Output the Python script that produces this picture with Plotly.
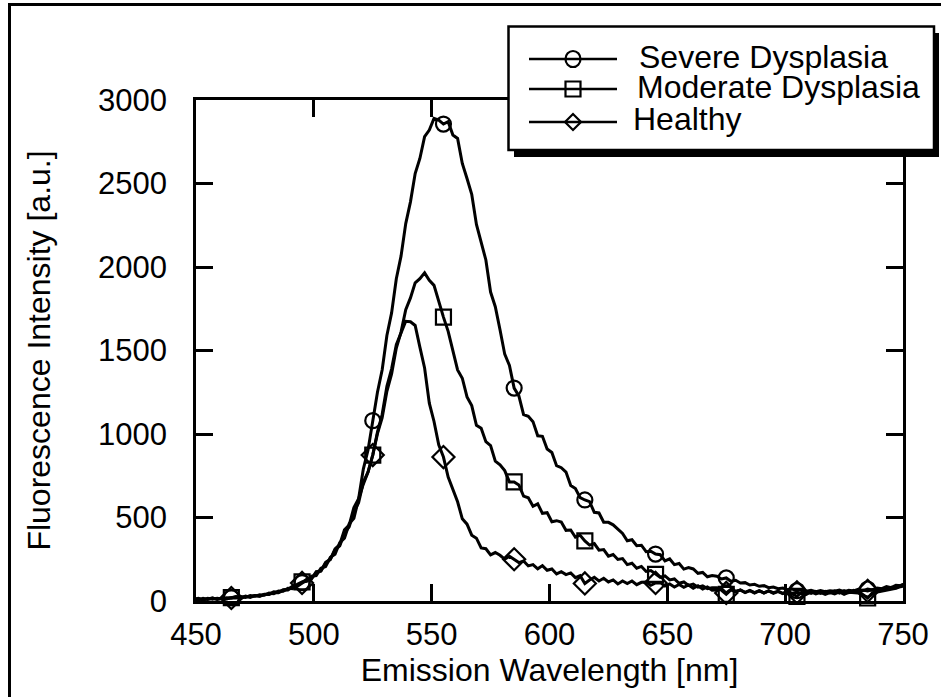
import numpy as np
import plotly.graph_objects as go

# Emission wavelength grid [nm] (2 nm sampling)
wavelength = np.arange(449, 753, 2)

severe = [
    12, 6, 16, 9, 17, 10,
    16, 12, 20, 26, 17,
    29, 22, 33, 28, 40,
    42, 55, 52, 68, 70,
    88, 92, 110, 130, 132,
    176, 180, 232, 250, 312,
    338, 426, 455, 560, 612,
    790, 905, 1080, 1250, 1385,
    1590, 1725, 1930, 2065, 2260,
    2390, 2560, 2650, 2780, 2820,
    2890, 2880, 2856, 2870, 2790,
    2770, 2620, 2530, 2435, 2255,
    2145, 2042, 1850, 1762, 1624,
    1478, 1410, 1275, 1228, 1116,
    1106, 1074, 989, 986, 910,
    889, 810, 798, 772, 692,
    674, 619, 605, 595, 531,
    527, 472, 471, 456, 428,
    405, 361, 367, 331, 334,
    295, 298, 281, 277, 240,
    252, 218, 225, 191, 200,
    192, 166, 171, 145, 153,
    148, 132, 138, 118, 124,
    108, 110, 96, 100, 88,
    92, 80, 84, 74, 78,
    68, 72, 62, 68, 58,
    64, 56, 62, 56, 62,
    58, 66, 56, 64, 60,
    70, 62, 72, 66, 78,
    74, 86, 80, 94, 92,
    104,
]

moderate = [
    10, 16, 7, 14, 18, 10,
    17, 14, 20, 18, 27,
    22, 32, 28, 37, 35,
    47, 44, 60, 58, 76,
    74, 100, 114, 118, 148,
    152, 196, 206, 262, 280,
    350, 376, 462, 495, 612,
    700, 772, 874, 1002, 1098,
    1256, 1360, 1515, 1610, 1745,
    1815, 1905, 1930, 1965, 1920,
    1890, 1790, 1700, 1615, 1490,
    1384, 1334, 1222, 1170, 1052,
    1034, 954, 931, 837, 815,
    781, 713, 713, 695, 628,
    618, 567, 582, 525, 529,
    475, 481, 473, 423, 425,
    382, 394, 360, 335, 344,
    304, 308, 268, 278, 249,
    254, 218, 226, 196, 207,
    177, 182, 160, 142, 150,
    126, 132, 106, 114, 93,
    101, 83, 91, 74, 79,
    80, 64, 40, 66, 54,
    66, 50, 62, 48, 60,
    48, 60, 46, 58, 44,
    56, 42, 28, 52, 40,
    54, 42, 52, 40, 50,
    42, 54, 40, 52, 50,
    48, 38, 18, 48, 54,
    58, 62, 70, 76, 86,
    90,
]

healthy = [
    11, 14, 7, 16, 10, 17,
    12, 19, 18, 25, 17,
    27, 25, 33, 29, 39,
    39, 50, 49, 64, 66,
    84, 88, 108, 126, 136,
    168, 180, 226, 248, 306,
    330, 406, 444, 534, 588,
    712, 772, 874, 1012, 1118,
    1285, 1390, 1535, 1600, 1675,
    1672, 1650, 1520, 1395, 1185,
    1075, 935, 862, 742, 672,
    594, 492, 460, 394, 376,
    318, 313, 276, 290, 274,
    250, 268, 250, 230, 240,
    210, 218, 193, 212, 184,
    192, 162, 176, 158, 168,
    140, 152, 105, 126, 142,
    120, 136, 114, 126, 102,
    120, 104, 120, 98, 112,
    113, 94, 108, 110, 90,
    102, 84, 99, 82, 96,
    76, 91, 72, 84, 65,
    66, 74, 48, 70, 58,
    66, 52, 64, 50, 62,
    48, 60, 50, 58, 46,
    58, 46, 52, 44, 58,
    46, 58, 46, 58, 48,
    60, 48, 62, 50, 64,
    52, 66, 60, 68, 58,
    72, 70, 82, 80, 94,
    102,
]

series_names = ["Severe Dysplasia", "Moderate Dysplasia", "Healthy"]
series_symbols = ["circle-open", "square-open", "diamond-open"]
x_ticks = [450, 500, 550, 600, 650, 700, 750]
y_ticks = [0, 500, 1000, 1500, 2000, 2500, 3000]

# symbols are drawn on every 15th sample (every 30 nm, from 465 nm)
mark_every = slice(8, None, 15)

FONT = "Liberation Sans, Arial, Helvetica, sans-serif"
FS_TICK = 31
FS_TEXT = 32
W, H = 941, 697
L, R, T, B = 196, 903, 100, 601   # plot box in pixels


def px(xp):
    return (xp - L) / (R - L)


def py(yp):
    return (B - yp) / (B - T)


fig = go.Figure()
for name, sym, vals in zip(series_names, series_symbols, [severe, moderate, healthy]):
    vals = np.asarray(vals)
    fig.add_trace(go.Scatter(
        x=wavelength, y=vals, mode="lines", name=name,
        line=dict(color="black", width=3), showlegend=False,
    ))
    fig.add_trace(go.Scatter(
        x=wavelength[mark_every], y=vals[mark_every], mode="markers",
        marker=dict(symbol=sym, size=15 if sym != "diamond-open" else 17,
                    color="black", line=dict(width=2.2, color="black")),
        showlegend=False, cliponaxis=False, name=name,
    ))

axis_common = dict(
    showline=True, linecolor="black", linewidth=2.5, mirror="ticks",
    ticks="inside", ticklen=17, tickwidth=2.5, tickcolor="black",
    showgrid=False, zeroline=False,
    tickfont=dict(family=FONT, size=FS_TICK, color="black"),
)

fig.update_layout(
    width=W, height=H,
    margin=dict(l=L, r=W - R, t=T, b=H - B, autoexpand=False),
    paper_bgcolor="white", plot_bgcolor="white",
    font=dict(family=FONT, size=FS_TEXT, color="black"),
    xaxis=dict(range=[450, 750], tickvals=x_ticks, ticklabelstandoff=4,
               title=dict(text="Emission Wavelength [nm]", standoff=6,
                          font=dict(family=FONT, size=FS_TEXT)),
               **axis_common),
    yaxis=dict(range=[0, 3000], tickvals=y_ticks, ticklabelstandoff=20,
               title=dict(text="Fluorescence Intensity [a.u.]", standoff=38,
                          font=dict(family=FONT, size=FS_TEXT)),
               **axis_common),
)

shapes = []
# page frame (left and top edges)
shapes.append(dict(type="line", xref="paper", yref="paper",
                   x0=px(9.5), x1=px(960), y0=py(4.5), y1=py(4.5),
                   line=dict(color="black", width=3), layer="above"))
shapes.append(dict(type="line", xref="paper", yref="paper",
                   x0=px(9.5), x1=px(9.5), y0=py(3), y1=py(720),
                   line=dict(color="black", width=3), layer="above"))

# legend box with drop shadow
shapes.append(dict(type="rect", xref="paper", yref="paper",
                   x0=px(514), x1=px(939), y0=py(33), y1=py(157),
                   fillcolor="black", line=dict(width=0), layer="above"))
shapes.append(dict(type="rect", xref="paper", yref="paper",
                   x0=px(508.5), x1=px(934), y0=py(26.5), y1=py(150),
                   fillcolor="white", line=dict(color="black", width=2.5),
                   layer="above"))

row_line_y = [59, 89, 122]
row_text_y = [57, 87, 119]
row_text_x = [637, 635, 631]
cx = 573
for i, (name, sym) in enumerate(zip(series_names, series_symbols)):
    yl = py(row_line_y[i])
    shapes.append(dict(type="line", xref="paper", yref="paper",
                       x0=px(529), x1=px(617), y0=yl, y1=yl,
                       line=dict(color="black", width=2.5), layer="above"))
    base = dict(xref="paper", yref="paper", xsizemode="pixel", ysizemode="pixel",
                xanchor=px(cx), yanchor=yl, line=dict(color="black", width=2.2),
                layer="above")
    if sym == "circle-open":
        shapes.append(dict(type="circle", x0=-7.5, x1=7.5, y0=-8, y1=8, **base))
    elif sym == "square-open":
        shapes.append(dict(type="rect", x0=-7.5, x1=7.5, y0=-7.5, y1=7.5, **base))
    else:
        shapes.append(dict(type="path", path="M-8,0 L0,8 L8,0 L0,-8 Z", **base))

fig.update_layout(shapes=shapes)

for i, name in enumerate(series_names):
    fig.add_annotation(xref="paper", yref="paper", x=px(row_text_x[i]), y=py(row_text_y[i]),
                       text=name, showarrow=False, xanchor="left", yanchor="middle",
                       font=dict(family=FONT, size=FS_TEXT, color="black"))

fig.write_html("out.html")
